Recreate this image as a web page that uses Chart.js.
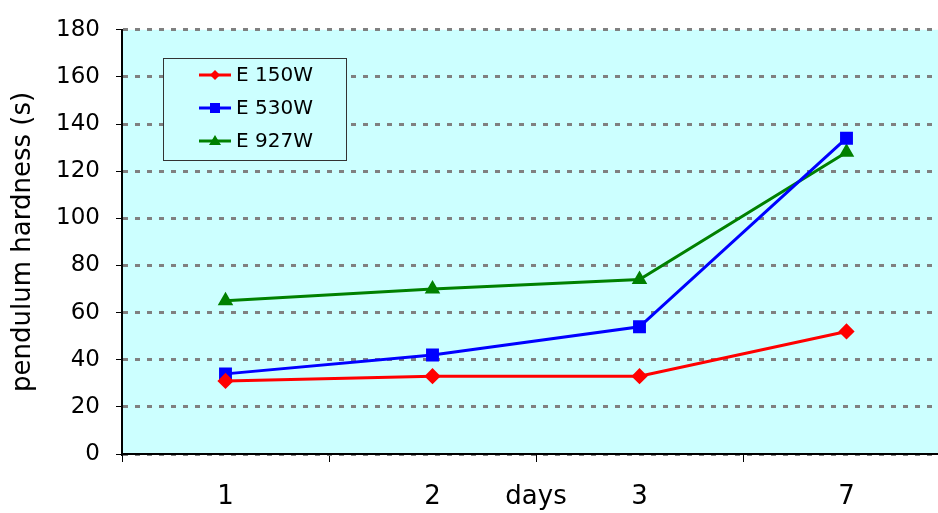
<!DOCTYPE html>
<html>
<head>
<meta charset="utf-8">
<script src="https://cdn.jsdelivr.net/npm/chart.js@4.4.1/dist/chart.umd.min.js"></script>
<style>
  html, body { margin: 0; padding: 0; background: #fff; overflow: hidden; }
  #wrap { position: relative; width: 960px; height: 513px; }
</style>
</head>
<body>
<div id="wrap"><canvas id="chart"></canvas></div>
<script>
// Pendulum hardness over days
const days = ['1', '2', '3', '7'];
const e150w = [31, 33, 33, 52];
const e530w = [34, 42, 54, 134];
const e927w = [65, 70, 74, 128];
const yTicks = [0, 20, 40, 60, 80, 100, 120, 140, 160, 180];

const FONT = 'DejaVu Sans';

// Cyan plot background
const plotBg = {
    id: 'plotBg',
    beforeDraw(chart) {
        const { ctx, chartArea: a } = chart;
        ctx.save();
        ctx.fillStyle = '#CCFFFF';
        ctx.fillRect(a.left, a.top, a.right - a.left, a.bottom - a.top);
        ctx.restore();
    }
};

// "days" sits on the same line as the category labels
const daysLabel = {
    id: 'daysLabel',
    afterDraw(chart) {
        const { ctx, chartArea: a } = chart;
        ctx.save();
        ctx.font = `26px "${FONT}"`;
        ctx.fillStyle = '#000';
        ctx.textAlign = 'center';
        ctx.textBaseline = 'middle';
        ctx.fillText('days', (a.left + a.right) / 2, 497);
        ctx.restore();
    }
};

function drawMarker(ctx, style, x, y, color) {
    ctx.fillStyle = color;
    ctx.beginPath();
    if (style === 'rectRot') {
        ctx.moveTo(x, y - 5); ctx.lineTo(x + 5, y); ctx.lineTo(x, y + 5); ctx.lineTo(x - 5, y);
    } else if (style === 'rect') {
        ctx.rect(x - 5, y - 5, 10, 10);
    } else {
        ctx.moveTo(x, y - 6); ctx.lineTo(x + 6, y + 4); ctx.lineTo(x - 6, y + 4);
    }
    ctx.closePath();
    ctx.fill();
}

// Boxed legend inside the plot area
const boxLegend = {
    id: 'boxLegend',
    afterDraw(chart) {
        const { ctx } = chart;
        const x0 = 163, y0 = 58, w = 183, h = 102;
        ctx.save();
        ctx.fillStyle = '#CCFFFF';
        ctx.fillRect(x0, y0, w, h);
        ctx.strokeStyle = '#333';
        ctx.lineWidth = 1;
        ctx.strokeRect(x0 + 0.5, y0 + 0.5, w, h);
        chart.data.datasets.forEach((ds, i) => {
            const y = 75 + i * 33;
            ctx.strokeStyle = ds.borderColor;
            ctx.lineWidth = 3;
            ctx.beginPath();
            ctx.moveTo(199, y);
            ctx.lineTo(231, y);
            ctx.stroke();
            drawMarker(ctx, ds.pointStyle, 215, y, ds.borderColor);
            ctx.fillStyle = '#000';
            ctx.font = `20px "${FONT}"`;
            ctx.textAlign = 'left';
            ctx.textBaseline = 'middle';
            ctx.fillText(ds.label, 236, y + 1);
        });
        ctx.restore();
    }
};

const series = (label, data, color, style, radius) => ({
    label, data,
    borderColor: color,
    backgroundColor: color,
    pointBackgroundColor: color,
    pointBorderColor: color,
    borderWidth: 3,
    pointStyle: style,
    pointRadius: radius,
    pointHoverRadius: radius,
    tension: 0
});

new Chart(document.getElementById('chart'), {
    type: 'line',
    data: {
        labels: days,
        datasets: [
            series('E 150W', e150w, '#FF0000', 'rectRot', 6),
            series('E 530W', e530w, '#0000FF', 'rect', 7),
            series('E 927W', e927w, '#008000', 'triangle', 6)
        ]
    },
    options: {
        responsive: true,
        maintainAspectRatio: false,
        animation: false,
        layout: { padding: { top: 22, right: 9, left: 0, bottom: 0 } },
        plugins: { legend: { display: false }, tooltip: { enabled: false } },
        scales: {
            x: {
                offset: true,
                grid: { offset: true, drawOnChartArea: false, drawTicks: true, tickLength: 8, tickColor: '#000', tickWidth: 1 },
                border: { color: '#000', width: 2 },
                ticks: { color: '#000', font: { family: FONT, size: 26 }, padding: 20, maxRotation: 0 },
                afterFit(s) { s.height = 59; }
            },
            y: {
                min: 0, max: 180,
                afterBuildTicks(s) { s.ticks = yTicks.map(v => ({ value: v })); },
                grid: {
                    color: '#808080', lineWidth: 3,
                    drawTicks: true, tickLength: 6, tickColor: '#000', tickWidth: 1, tickBorderDash: []
                },
                border: { color: '#000', width: 2, dash: [5, 7] },
                ticks: { color: '#000', font: { family: FONT, size: 23 }, padding: 16 },
                title: {
                    display: true, text: 'pendulum hardness (s)', color: '#000',
                    font: { family: FONT, size: 26 }, padding: { top: 8, bottom: 0 }
                },
                afterFit(s) { s.width = 122; }
            }
        }
    },
    plugins: [plotBg, daysLabel, boxLegend]
});
</script>
</body>
</html>
